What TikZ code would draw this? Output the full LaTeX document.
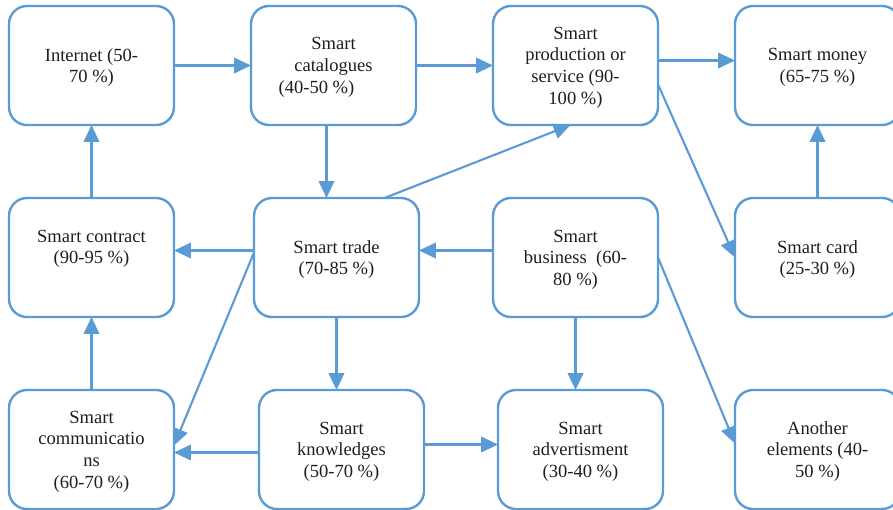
\documentclass[tikz,border=0pt]{standalone}
\usepackage{fontspec}
\setmainfont{Liberation Serif}
\usepackage{xcolor}
\usepackage{tikz}
\usetikzlibrary{arrows.meta, positioning}
\definecolor{smartBlue}{RGB}{91,155,213}
\definecolor{textDark}{RGB}{30,30,30}

\begin{document}
\begin{tikzpicture}[
  box/.style={rectangle, rounded corners=0.45cm, draw=smartBlue, line width=1.7pt,
              minimum width=4.125cm, minimum height=2.975cm, inner sep=0pt, outer sep=0pt,
              text depth=-0.1cm,
              font=\fontsize{13.2}{15.4}\selectfont, text=textDark, align=center},
  arr/.style={-{Triangle[length=12pt, width=11pt]}, draw=smartBlue, line width=1.5pt}
]
\useasboundingbox (0,0) rectangle (22.325,-12.725);
% top row
\node[box] (internet) at (2.2875,-1.6375) {Internet (50-\\70 \%)};
\node[box, right=1.925cm of internet] (catal)
  {Smart\\catalogues\\(40-50 \%)\hspace{0.85cm}\mbox{}};
\node[box, right=1.925cm of catal] (prod)
  {Smart\\production or\\service (90-\\100 \%)};
\node[box, right=1.925cm of prod] (money) {Smart money\\(65-75 \%)};
% middle row
\node[box, below=1.825cm of internet] (contract) {Smart contract\\(90-95 \%)\\\mbox{}};
\node[box, right=2.0cm of contract] (trade) {Smart trade\\(70-85 \%)};
\node[box, right=1.85cm of trade] (business) {Smart\\business\ \ (60-\\80 \%)};
\node[box, right=1.925cm of business] (card) {Smart card\\(25-30 \%)};
% bottom row
\node[box, below=1.825cm of contract] (comm)
  {Smart\\communicatio\\ns\\(60-70 \%)};
\node[box, right=2.125cm of comm] (know) {Smart\\knowledges\\(50-70 \%)};
\node[box, right=1.85cm of know] (advert) {Smart\\advertisment\\(30-40 \%)};
\node[box, right=1.8cm of advert] (another) {Another\\elements (40-\\50 \%)};

\draw[arr] (internet) -- (catal);
\draw[arr] (catal) -- (prod);
\draw[arr] ([yshift=0.125cm]prod.east) -- ([yshift=0.125cm]money.west);
\draw[arr] ([xshift=-0.175cm]catal.south) -- ([xshift=-0.175cm]catal.south |- trade.north);
\draw[arr] (contract) -- (internet);
\draw[arr] (card) -- (money);
\draw[arr] ([xshift=1.2cm]trade.north) -- ([xshift=-0.125cm]prod.south);
\draw[arr] ([yshift=-0.475cm]prod.east) -- (card.west);
\draw[arr] ([yshift=0.175cm]trade.west) -- ([yshift=0.175cm]trade.west -| contract.east);
\draw[arr] ([yshift=0.175cm]business.west) -- ([yshift=0.175cm]business.west -| trade.east);
\draw[arr] ([yshift=0.125cm]trade.west) -- ([yshift=0.1cm]comm.east);
\draw[arr] (trade.south) -- (trade.south |- know.north);
\draw[arr] (comm) -- (contract);
\draw[arr] ([yshift=-0.075cm]know.west) -- ([yshift=-0.075cm]know.west -| comm.east);
\draw[arr] ([yshift=0.125cm]know.east) -- ([yshift=0.125cm]know.east -| advert.west);
\draw[arr] (business.south) -- (business.south |- advert.north);
\draw[arr] (business.east) -- ([yshift=0.15cm]another.west);
\end{tikzpicture}
\end{document}
